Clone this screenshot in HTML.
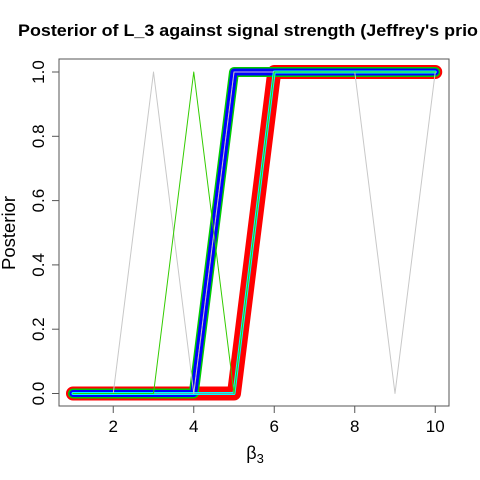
<!DOCTYPE html>
<html><head><meta charset="utf-8"><style>
html,body{margin:0;padding:0;background:#fff;}
svg{display:block;font-family:"Liberation Sans",sans-serif;}
</style></head><body>
<svg id="chart" width="480" height="480" viewBox="0 0 480 480">
<text x="18" y="36" font-size="17" font-weight="bold" textLength="460" lengthAdjust="spacingAndGlyphs">Posterior of L_3 against signal strength (Jeffrey's prio</text>
<rect x="59" y="59" width="390" height="347" fill="none" stroke="#555" stroke-width="1"/>
<g id="xaxis"></g>
<g id="yaxis"></g>
<g id="series"></g>
<text x="255" y="459" font-size="18" text-anchor="middle">β<tspan font-size="13" dy="4">3</tspan></text>
<text transform="translate(15,233) rotate(-90)" font-size="18.5" text-anchor="middle">Posterior</text>
</svg>
<script>
const xs = [1,2,3,4,5,6,7,8,9,10];
const redVals = [0,0,0,0,0,1,1,1,1,1];
const greenVals = [0,0,0,0,1,1,1,1,1,1];
const blueVals = [0,0,0,0,1,1,1,1,1,1];
const cyanVals = [0,0,0,0,0,1,1,1,1,1];
const grayVals = [0,0,1,0,1,1,1,1,0,1];
const thinGreenVals = [0,0,0,1,0,1,1,1,1,1];
const xTicks = [2,4,6,8,10];
const yTicks = [0,0.2,0.4,0.6,0.8,1];
const yTickLabels = ["0.0","0.2","0.4","0.6","0.8","1.0"];

const NS="http://www.w3.org/2000/svg";
function sx(v){return 73+(v-1)*40.25;}
function sy(v){return 393.5-v*321.5;}
const xa=document.getElementById('xaxis'), ya=document.getElementById('yaxis'), sg=document.getElementById('series');
function mk(tag,attrs,parent){const e=document.createElementNS(NS,tag);for(const k in attrs)e.setAttribute(k,attrs[k]);parent.appendChild(e);return e;}
const xl=mk('line',{x1:sx(2),x2:sx(10),y1:406,y2:406,stroke:'#555'},xa);


xTicks.forEach(t=>{
  const l=mk('line',{x1:sx(t),x2:sx(t),y1:406,y2:413,stroke:'#555'},xa);
  
  
  const tx=mk('text',{x:sx(t),y:432,'font-size':'17','text-anchor':'middle'},xa);
  tx.textContent=t;
  
  
});
const yl=mk('line',{x1:59,x2:59,y1:sy(0),y2:sy(1),stroke:'#555'},ya);


yTicks.forEach((t,i)=>{
  const l=mk('line',{x1:52,x2:59,y1:sy(t),y2:sy(t),stroke:'#555'},ya);
  
  
  const tx=mk('text',{transform:`translate(44,${sy(t)}) rotate(-90)`,'font-size':'17','text-anchor':'middle'},ya);
  tx.textContent=yTickLabels[i];
  
  
});
function pts(vals){return xs.map((x,i)=>sx(x)+','+sy(vals[i])).join(' ');}
function line(vals,color,w,name,dash){
  const p=mk('polyline',{points:pts(vals),fill:'none',stroke:color,'stroke-width':w,'stroke-linejoin':'round','stroke-linecap':'round'},sg);
  if(dash)p.setAttribute('stroke-dasharray',dash);
  
  
}
line(redVals,'#ff0000',14,'series-red');
line(greenVals,'#00cd00',10,'series-green');
line(blueVals,'#0000ff',7,'series-blue');
line(blueVals,'#888888',1,'series-gray-dashed','4,3');
line(cyanVals,'#00ffff',3,'series-cyan');
line(cyanVals,'#888888',0.8,'series-cyan-core');
line(grayVals,'#c8c8c8',1,'series-gray');
line(thinGreenVals,'#33cc00',1,'series-thin-green');
</script>
</body></html>
